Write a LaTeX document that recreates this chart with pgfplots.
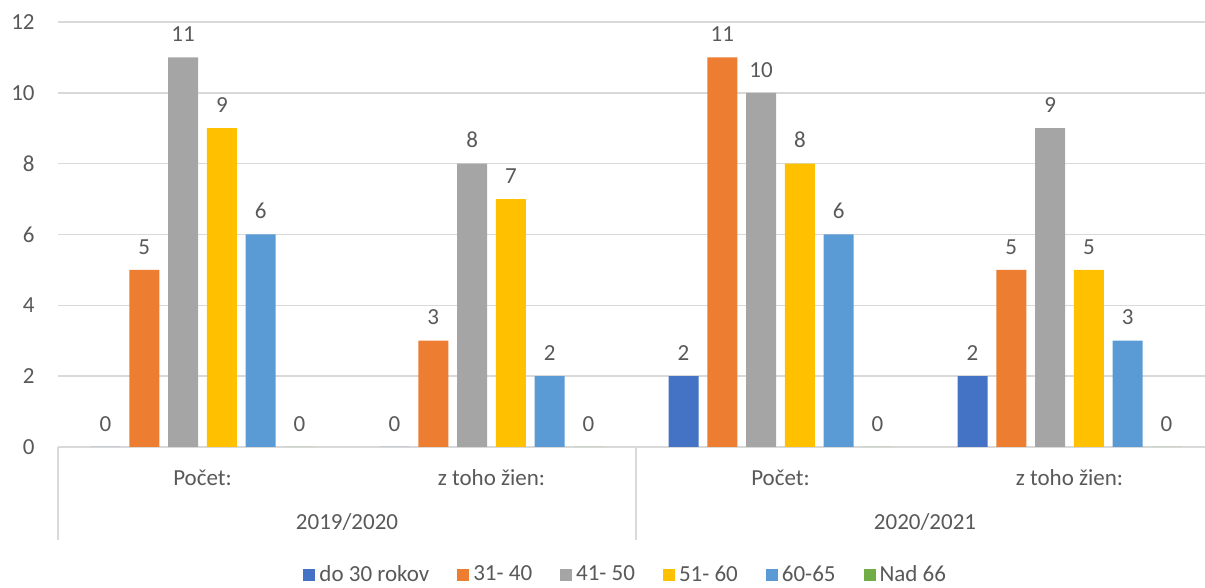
\documentclass[border=0pt]{standalone}
\usepackage{fontspec}
\setmainfont{Carlito}
\usepackage{pgfplots}
\pgfplotsset{compat=1.18}

\definecolor{cA}{HTML}{4472C4}
\definecolor{cB}{HTML}{ED7D31}
\definecolor{cC}{HTML}{A5A5A5}
\definecolor{cD}{HTML}{FFC000}
\definecolor{cE}{HTML}{5B9BD5}
\definecolor{cF}{HTML}{70AD47}
\definecolor{txt}{HTML}{595959}
\definecolor{gridc}{HTML}{D9D9D9}

\begin{document}
\begin{tikzpicture}
\begin{axis}[
    at={(0,0)}, anchor=south west,
    scale only axis,
    width=578pt, height=212.5pt,
    ybar=4.4pt, bar width=15pt,
    xmin=-0.5, xmax=3.5,
    ymin=0, ymax=12,
    enlargelimits=false,
    xtick={0,1,2,3},
    xticklabels={Počet:, z toho žien:, Počet:, z toho žien:},
    ytick={0,2,...,12},
    ymajorgrids,
    grid style={gridc, line width=0.8pt},
    axis line style={draw=none},
    major tick length=0pt,
    tick label style={font=\fontsize{11.5}{13}\selectfont, text=txt},
    /pgf/number format/assume math mode=true,
    yticklabel style={anchor=east, inner sep=0pt, xshift=-11.5pt},
    xticklabel style={anchor=base, inner sep=0pt, yshift=-19.25pt},
    nodes near coords,
    every node near coord/.append style={font=\fontsize{11.5}{13}\selectfont, text=txt, anchor=base, inner sep=0pt, yshift=7.9pt},
    clip=false,
    legend columns=-1,
    legend style={at={(0.492,-0.301)}, anchor=center, draw=none,
        font=\fontsize{11.5}{13}\selectfont, text=txt,
        /tikz/every even column/.append style={column sep=12pt}},
    legend image code/.code={\fill[#1] (0pt,-3pt) rectangle (6pt,3pt);},
]
\addplot[fill=cA, draw=none] coordinates {(0,0) (1,0) (2,2) (3,2)};
\addplot[fill=cB, draw=none] coordinates {(0,5) (1,3) (2,11) (3,5)};
\addplot[fill=cC, draw=none] coordinates {(0,11) (1,8) (2,10) (3,9)};
\addplot[fill=cD, draw=none] coordinates {(0,9) (1,7) (2,8) (3,5)};
\addplot[fill=cE, draw=none] coordinates {(0,6) (1,2) (2,6) (3,3)};
\addplot[fill=cF, draw=none] coordinates {(0,0) (1,0) (2,0) (3,0)};
\legend{do 30 rokov, 31- 40, 41- 50, 51- 60, 60-65, Nad 66}

\draw[gridc, line width=0.8pt] (axis cs:-0.5,0) -- ([yshift=-46.5pt]axis cs:-0.5,0);
\draw[gridc, line width=0.8pt] (axis cs:1.5,0) -- ([yshift=-46.5pt]axis cs:1.5,0);
\node[anchor=base, text=txt, font=\fontsize{11.5}{13}\selectfont] at ([yshift=-41.25pt]axis cs:0.5,0) {2019/2020};
\node[anchor=base, text=txt, font=\fontsize{11.5}{13}\selectfont] at ([yshift=-41.25pt]axis cs:2.5,0) {2020/2021};
\end{axis}
\pgfresetboundingbox
\useasboundingbox (-29pt,-70.5pt) rectangle (573.5pt,223.5pt);
\end{tikzpicture}
\end{document}
